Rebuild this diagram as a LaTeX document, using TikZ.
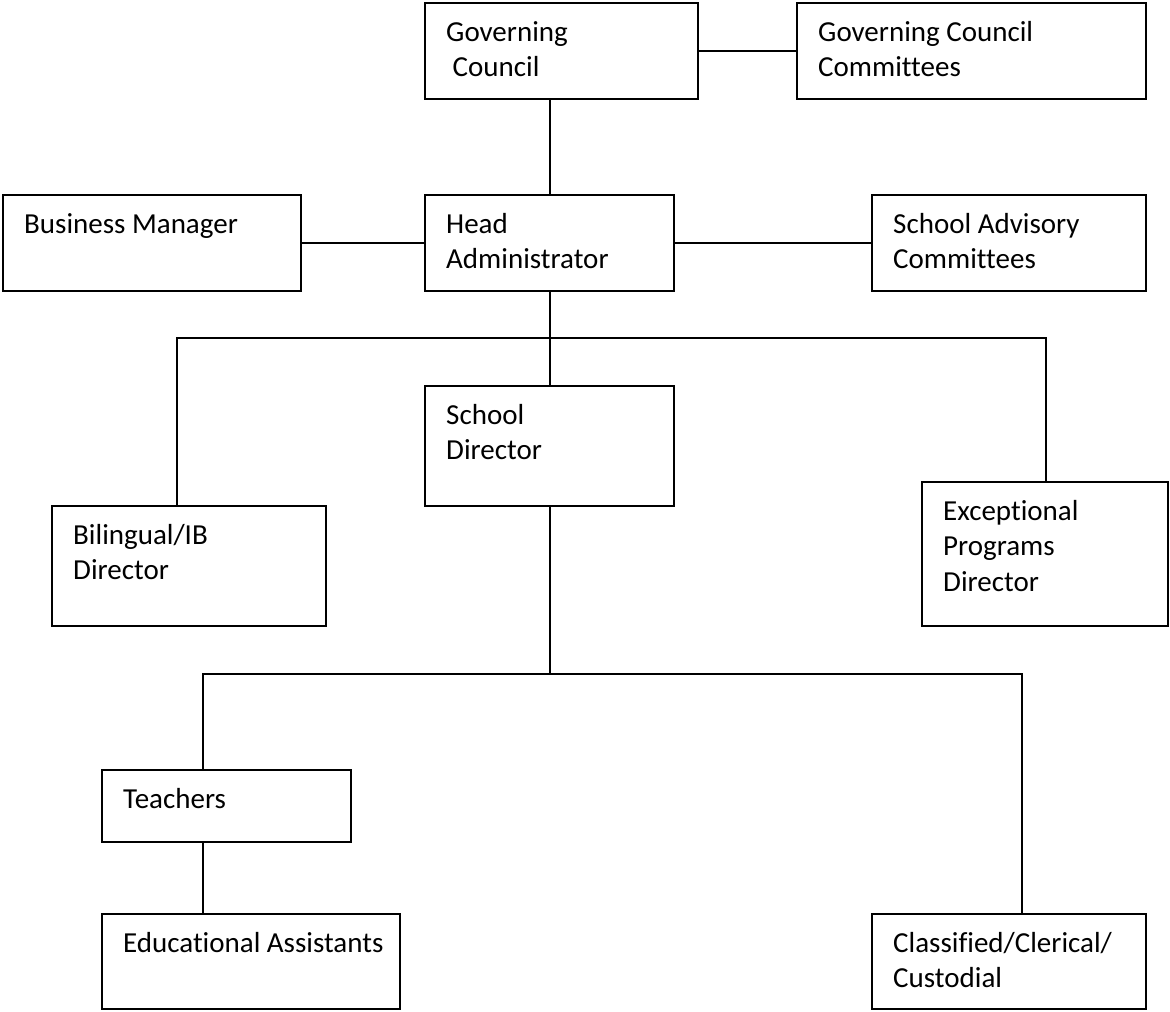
\documentclass[tikz,border=0pt]{standalone}
\usepackage{fontspec}
\setmainfont{Carlito}[Ligatures=CommonOff]

\tikzset{
    unit/.style={draw, rectangle, line width=2pt, inner sep=0pt, outer sep=0pt, anchor=north west},
    lbl/.style={anchor=north west, inner sep=0pt, text width=330pt, align=flush left,
        text height=20pt, xshift=21pt, yshift=-18pt,
        font=\fontsize{29pt}{35.5pt}\selectfont},
    link/.style={line width=2pt}
}

\begin{document}
\begin{tikzpicture}[x=1pt, y=-1pt]
    \useasboundingbox (0, 0) rectangle (1170, 1012);

    % top level
    \node[unit, minimum width=273pt, minimum height=96pt,
        label={[lbl, name=gc-t]north west:Governing\\\hspace*{6.5pt}Council}] (gc) at (425, 3) {};
    \node[unit, minimum width=349pt, minimum height=96pt,
        label={[lbl, name=gcc-t]north west:Governing Council\\Committees}] (gcc) at (797, 3) {};

    \node[unit, minimum width=298pt, minimum height=96pt,
        label={[lbl, name=bm-t]north west:Business Manager}] (bm) at (3, 195) {};
    \node[unit, minimum width=249pt, minimum height=96pt,
        label={[lbl, name=ha-t]north west:Head\\Administrator}] (ha) at (425, 195) {};
    \node[unit, minimum width=274pt, minimum height=96pt,
        label={[lbl, name=sac-t]north west:School Advisory\\Committees}] (sac) at (872, 195) {};

    % directors
    \node[unit, minimum width=249pt, minimum height=120pt,
        label={[lbl, name=sd-t]north west:School\\Director}] (sd) at (425, 386) {};
    \node[unit, minimum width=274pt, minimum height=120pt,
        label={[lbl, name=bib-t]north west:Bilingual/IB\\Director}] (bib) at (52, 506) {};
    \node[unit, minimum width=246pt, minimum height=144pt,
        label={[lbl, name=epd-t]north west:Exceptional\\Programs\\Director}] (epd) at (922, 482) {};

    % staff
    \node[unit, minimum width=249pt, minimum height=72pt,
        label={[lbl, name=tch-t]north west:Teachers}] (tch) at (102, 770) {};
    \node[unit, minimum width=298pt, minimum height=95pt,
        label={[lbl, name=ea-t]north west:Educational Assistants}] (ea) at (102, 914) {};
    \node[unit, minimum width=274pt, minimum height=95pt,
        label={[lbl, name=ccc-t]north west:Classified/Clerical/\\Custodial}] (ccc) at (872, 914) {};

    \coordinate (busl) at (177, 338);
    \coordinate (busr) at (1046, 338);
    \coordinate (lowl) at (203, 674);
    \coordinate (lowr) at (1022, 674);

    \draw[link] (gc) -- (gcc);
    \draw[link] (ha.north) -- (ha.north |- gc.south);
    \draw[link] (bm) -- (ha);
    \draw[link] (ha) -- (sac);
    \draw[link] (ha.south) -- (sd.north);
    \draw[link] (busl |- bib.north) -- (busl) -- (busr) -- (busr |- epd.north);

    \draw[link] (sd.south) -- (sd.south |- lowl);
    \draw[link] (lowl |- tch.north) -- (lowl) -- (lowr) -- (lowr |- ccc.north);
    \draw[link] (lowl |- tch.south) -- (lowl |- ea.north);

\end{tikzpicture}
\end{document}
